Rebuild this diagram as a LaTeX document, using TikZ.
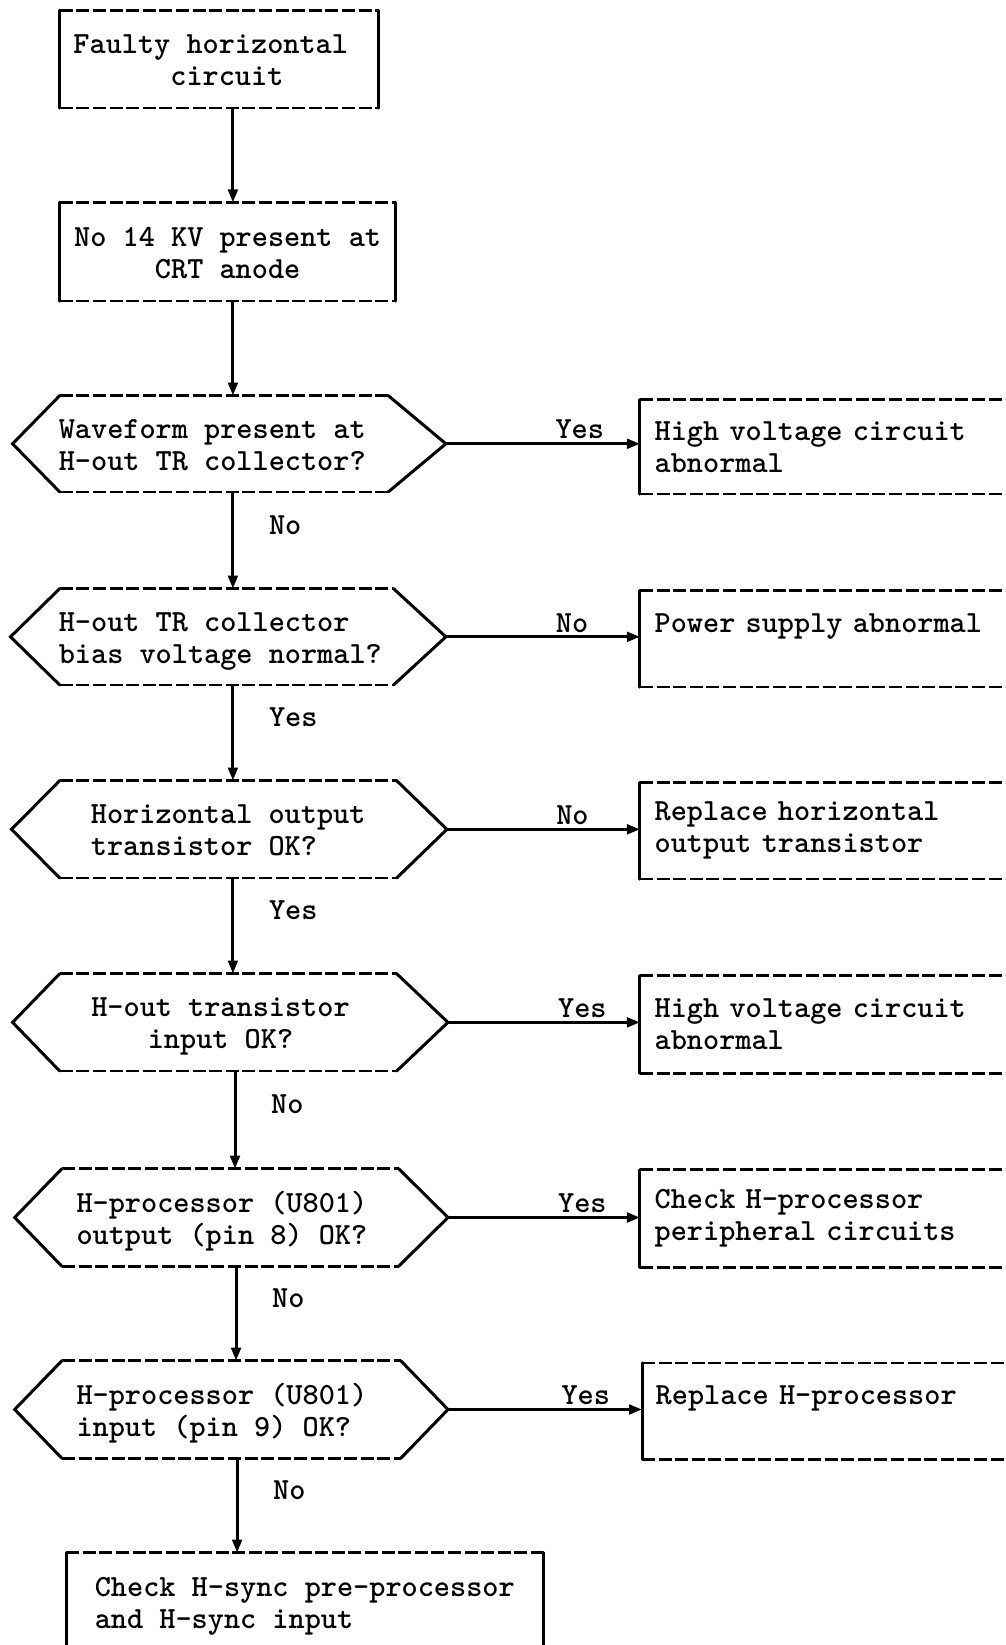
\documentclass[tikz,border=0pt]{standalone}
\usepackage{fontspec}
\usetikzlibrary{arrows.meta,calc}

\newdimen\unitu \unitu=0.5245pt
\newcommand\chartfont{\ttfamily\bfseries\fontsize{15.38pt}{16pt}\selectfont}
% two-line text blocks: first argument is the extra left offset in picture units;
% the taller first-row strut sets the block a little lower in its frame
\newcommand\linesl[2]{\begin{tabular}{@{\hspace{#1\unitu}}l@{}}\rule{0pt}{15.4pt}#2\end{tabular}}
\newcommand\linesc[2]{\begin{tabular}{@{\hspace{#1\unitu}}c@{}}\rule{0pt}{15.4pt}#2\end{tabular}}

\tikzset{
  outline/.style={line width=1.5pt, line cap=round},
  rim/.style={line width=1.3pt, dash pattern=on 6.5pt off 1.8pt},
  arr/.style={line width=1.5pt, -{Triangle[length=6.5pt,width=4.8pt]}},
  cell/.style 2 args={inner sep=0pt, outer sep=0pt, font=\chartfont,
    minimum width={#1*0.5245pt}, minimum height={#2*0.5245pt}},
  outcome/.style 2 args={cell={#1}{#2}, text width=172pt, align=left},
  lbl/.style={font=\chartfont, inner sep=0pt},
}

% rectangle: dashed top and bottom, solid sides
\newcommand\boxoutline[1]{%
  \draw[rim] (#1.north west) -- (#1.north east);
  \draw[rim] (#1.south west) -- (#1.south east);
  \draw[outline] (#1.north west) -- (#1.south west);
  \draw[outline] (#1.north east) -- (#1.south east);
}
% decision hexagon: dashed top and bottom, pointed solid ends
\newcommand\hexoutline[3]{%
  \coordinate (#1-l) at ($(#1.west)+(-#2,0)$);
  \coordinate (#1-r) at ($(#1.east)+(#3,0)$);
  \draw[rim] (#1.north west) -- (#1.north east);
  \draw[rim] (#1.south west) -- (#1.south east);
  \draw[outline] (#1.north west) -- (#1-l) -- (#1.south west);
  \draw[outline] (#1.north east) -- (#1-r) -- (#1.south east);
}

\begin{document}
\begin{tikzpicture}[x=0.5245pt, y=-0.5245pt]
\useasboundingbox (0,0) rectangle (958,1568);
\clip (0,0) rectangle (958,1568);

% main column
\node[cell={304}{93}] (b1) at (209,56.5)
  {\linesl{-16.2}{Faulty horizontal\\\phantom{Faulty}circuit}};
\node[cell={320}{94}] (b2) at (217,240)
  {\linesc{0}{No 14 KV present at\\CRT anode}};
\node[cell={313}{92}] (h1) at (213.5,423)
  {\linesl{-22.4}{Waveform present at\\H-out TR collector?}};
\node[cell={318}{92}] (h2) at (216,607)
  {\linesl{-12}{H-out TR collector\\bias voltage normal?}};
\node[cell={321}{93}] (h3) at (217.5,790.5)
  {\linesl{0}{Horizontal output\\transistor OK?}};
\node[cell={321}{93}] (h4) at (217.5,974.5)
  {\linesc{-14.6}{H-out transistor\\input OK?}};
\node[cell={321}{93}] (h5) at (219.5,1160.5)
  {\linesl{-16}{H-processor (U801)\\output (pin 8) OK?}};
\node[cell={323}{93}] (h6) at (220.5,1343.5)
  {\linesl{-18}{H-processor (U801)\\input (pin 9) OK?}};
\node[cell={455}{93}] (b3) at (290.5,1526.5)
  {\linesl{0}{Check H-sync pre-processor\\and H-sync input}};

% outcomes on the right
\node[outcome={356}{90}] (r1) at (788,426) {High voltage circuit\\abnormal};
\node[outcome={356}{92}] (r2) at (788,609) {Power supply abnormal\\\mbox{}};
\node[outcome={356}{92}] (r3) at (788,792) {Replace horizontal\\output transistor};
\node[outcome={356}{93}] (r4) at (788,976.5) {High voltage circuit\\abnormal};
\node[outcome={356}{93}] (r5) at (788,1161.5) {Check H-processor\\peripheral circuits};
\node[outcome={354}{92}] (r6) at (789,1345) {Replace H-processor\\\mbox{}};

% outlines
\boxoutline{b1}
\boxoutline{b2}
\hexoutline{h1}{45}{55}
\hexoutline{h2}{47}{50}
\hexoutline{h3}{46}{48}
\hexoutline{h4}{45}{49}
\hexoutline{h5}{45}{47}
\hexoutline{h6}{45}{45}
\boxoutline{b3}
\foreach \r in {r1,r2,r3,r4,r5,r6} {\boxoutline{\r}}

% vertical flow lines
\coordinate (ax1) at (222,0);
\coordinate (ax2) at (224,0);
\coordinate (ax3) at (225,0);
\coordinate (ax4) at (226,0);

\draw[arr] (b1.south -| ax1) -- (b2.north -| ax1);
\draw[arr] (b2.south -| ax1) -- (h1.north -| ax1);
\draw[arr] (h1.south -| ax1) -- node[lbl, pos=0.34, anchor=west, xshift=17.3pt] {No} (h2.north -| ax1);
\draw[arr] (h2.south -| ax1) -- node[lbl, pos=0.34, anchor=west, xshift=17.3pt] {Yes} (h3.north -| ax1);
\draw[arr] (h3.south -| ax1) -- node[lbl, pos=0.34, anchor=west, xshift=17.3pt] {Yes} (h4.north -| ax1);
\draw[arr] (h4.south -| ax2) -- node[lbl, pos=0.34, anchor=west, xshift=17.3pt] {No} (h5.north -| ax2);
\draw[arr] (h5.south -| ax3) -- node[lbl, pos=0.34, anchor=west, xshift=17.3pt] {No} (h6.north -| ax3);
\draw[arr] (h6.south -| ax4) -- node[lbl, pos=0.34, anchor=west, xshift=17.3pt] {No} (b3.north -| ax4);

% branches to the outcomes
\draw[arr] (h1-r) -- node[lbl, pos=0.69, anchor=base, yshift=2.5pt] {Yes} (r1.west |- h1-r);
\draw[arr] (h2-r) -- node[lbl, pos=0.65, anchor=base, yshift=2pt] {No} (r2.west |- h2-r);
\draw[arr] (h3-r) -- node[lbl, pos=0.65, anchor=base, yshift=2.5pt] {No} (r3.west |- h3-r);
\draw[arr] (h4-r) -- node[lbl, pos=0.70, anchor=base, yshift=2.5pt] {Yes} (r4.west |- h4-r);
\draw[arr] (h5-r) -- node[lbl, pos=0.70, anchor=base, yshift=2.5pt] {Yes} (r5.west |- h5-r);
\draw[arr] (h6-r) -- node[lbl, pos=0.71, anchor=base, yshift=2.5pt] {Yes} (r6.west |- h6-r);
\end{tikzpicture}
\end{document}
